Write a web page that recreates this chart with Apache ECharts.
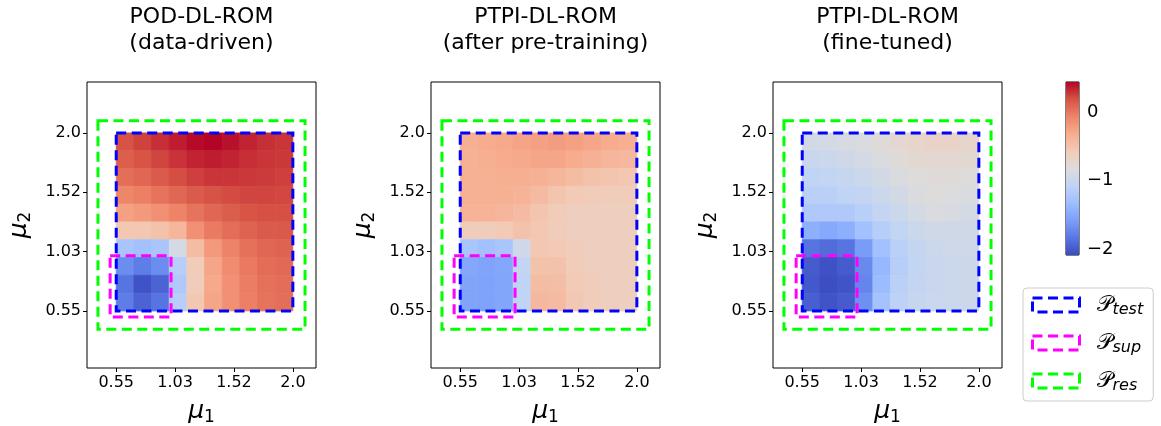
<!DOCTYPE html>
<html>
<head>
<meta charset="utf-8">
<script src="https://cdn.jsdelivr.net/npm/echarts@6/dist/echarts.min.js"></script>
<style>
  html, body { margin: 0; padding: 0; background: #fff; }
  #chart { width: 1161px; height: 426px; }
</style>
</head>
<body>
<div id="chart"></div>
<script>
// panel titles
const titles = [
    'POD-DL-ROM\n(data-driven)',
    'PTPI-DL-ROM\n(after pre-training)',
    'PTPI-DL-ROM\n(fine-tuned)'
];

// tick positions / labels on both mu axes
const tickValues = [0.55, 1.0333, 1.5167, 2.0];
const tickLabels = ['0.55', '1.03', '1.52', '2.0'];

// centres of the sampled cells in mu1 / mu2 (test region 0.55 .. 2.0)
const muCells = [0.6225, 0.7675, 0.9125, 1.0575, 1.2025, 1.3475, 1.4925, 1.6375, 1.7825, 1.9275];
const cellHalf = 0.0725;

// error fields, rows from mu2 = 2.0 (top) down to mu2 = 0.55
const podField = [
    [0.18, 0.24, 0.30, 0.36, 0.42, 0.44, 0.40, 0.34, 0.30, 0.28],
    [0.12, 0.17, 0.23, 0.29, 0.34, 0.36, 0.34, 0.30, 0.28, 0.27],
    [0.04, 0.08, 0.14, 0.20, 0.25, 0.28, 0.28, 0.27, 0.26, 0.25],
    [-0.08, -0.04, 0.02, 0.08, 0.14, 0.18, 0.21, 0.23, 0.23, 0.22],
    [-0.24, -0.20, -0.14, -0.06, 0.02, 0.08, 0.13, 0.17, 0.19, 0.19],
    [-0.55, -0.55, -0.50, -0.40, -0.14, -0.02, 0.05, 0.10, 0.14, 0.15],
    [-1.25, -1.30, -1.25, -0.90, -0.45, -0.20, -0.06, 0.03, 0.08, 0.10],
    [-1.70, -1.80, -1.70, -1.15, -0.58, -0.28, -0.12, -0.01, 0.05, 0.07],
    [-1.85, -2.05, -1.95, -1.20, -0.60, -0.30, -0.14, -0.03, 0.03, 0.05],
    [-1.80, -1.95, -1.85, -1.15, -0.55, -0.28, -0.14, -0.04, 0.02, 0.04]
];
const preField = [
    [-0.34, -0.32, -0.30, -0.27, -0.24, -0.22, -0.24, -0.28, -0.32, -0.34],
    [-0.36, -0.34, -0.32, -0.30, -0.28, -0.28, -0.32, -0.36, -0.40, -0.42],
    [-0.36, -0.35, -0.34, -0.34, -0.36, -0.40, -0.45, -0.50, -0.52, -0.54],
    [-0.36, -0.36, -0.36, -0.38, -0.44, -0.52, -0.56, -0.58, -0.60, -0.60],
    [-0.38, -0.38, -0.40, -0.44, -0.52, -0.58, -0.62, -0.62, -0.62, -0.62],
    [-0.60, -0.60, -0.56, -0.50, -0.54, -0.60, -0.62, -0.62, -0.62, -0.62],
    [-1.25, -1.30, -1.25, -0.95, -0.55, -0.56, -0.60, -0.62, -0.62, -0.62],
    [-1.52, -1.54, -1.52, -1.05, -0.50, -0.50, -0.58, -0.62, -0.62, -0.62],
    [-1.54, -1.55, -1.53, -1.08, -0.45, -0.46, -0.56, -0.60, -0.62, -0.62],
    [-1.54, -1.55, -1.53, -1.08, -0.42, -0.44, -0.55, -0.60, -0.62, -0.62]
];
const fineField = [
    [-0.92, -0.90, -0.88, -0.85, -0.80, -0.74, -0.70, -0.68, -0.68, -0.70],
    [-1.00, -0.98, -0.95, -0.90, -0.85, -0.80, -0.76, -0.74, -0.74, -0.76],
    [-1.08, -1.06, -1.02, -0.98, -0.92, -0.86, -0.82, -0.80, -0.80, -0.82],
    [-1.12, -1.12, -1.08, -1.04, -0.98, -0.92, -0.86, -0.82, -0.84, -0.86],
    [-1.20, -1.20, -1.20, -1.14, -1.05, -0.98, -0.90, -0.86, -0.88, -0.90],
    [-1.45, -1.50, -1.45, -1.30, -1.15, -1.06, -0.98, -0.94, -0.94, -0.94],
    [-1.85, -1.90, -1.85, -1.60, -1.30, -1.12, -1.04, -0.98, -0.96, -0.96],
    [-2.00, -2.06, -2.00, -1.72, -1.38, -1.15, -1.06, -1.00, -0.98, -0.97],
    [-2.02, -2.08, -2.04, -1.75, -1.35, -1.12, -1.04, -1.00, -0.98, -0.97],
    [-1.98, -2.04, -2.00, -1.68, -1.28, -1.10, -1.02, -0.99, -0.98, -0.97]
];

// parameter boxes [mu1 min, mu2 min, mu1 max, mu2 max]
const testBox = [0.55, 0.55, 2.0, 2.0];
const supBox = [0.5, 0.5, 1.0, 1.0];
const resBox = [0.4, 0.4, 2.1, 2.1];

// colour range + colorbar ticks
const cbarRange = [-2.09, 0.44];
const cbarTicks = [-2, -1, 0];
const cbarLabels = ['\u22122', '\u22121', '0'];

const coolwarm = ['#3b4cc0', '#5977e3', '#7b9ff9', '#9ebeff', '#c0d4f5', '#dddcdc',
    '#f2cbb7', '#f7ac8e', '#ee8468', '#d65244', '#b40426'];

const FONT = 'DejaVu Sans';
const panelLeft = [87, 431, 773];
const panelTop = 82, panelW = 229, panelH = 286;

function fieldData(field) {
    const out = [];
    field.forEach((row, r) => {
        row.forEach((v, c) => {
            out.push([muCells[c], muCells[muCells.length - 1 - r], v]);
        });
    });
    return out;
}

function tickLabel(v) {
    let best = 0;
    tickValues.forEach((t, i) => {
        if (Math.abs(t - v) < Math.abs(tickValues[best] - v)) best = i;
    });
    return tickLabels[best];
}

function renderCell(params, api) {
    const x = api.value(0), y = api.value(1);
    const p0 = api.coord([x - cellHalf, y + cellHalf]);
    const p1 = api.coord([x + cellHalf, y - cellHalf]);
    const color = api.visual('color');
    return {
        type: 'rect',
        shape: { x: p0[0], y: p0[1], width: p1[0] - p0[0], height: p1[1] - p0[1] },
        style: { fill: color, stroke: color, lineWidth: 0.8 }
    };
}

function boxRenderer(color) {
    return function (params, api) {
        const p0 = api.coord([api.value(0), api.value(3)]);
        const p1 = api.coord([api.value(2), api.value(1)]);
        return {
            type: 'rect',
            shape: { x: p0[0], y: p0[1], width: p1[0] - p0[0], height: p1[1] - p0[1] },
            style: { fill: null, stroke: color, lineWidth: 3, lineDash: [10, 5.5] },
            z2: 10
        };
    };
}

const fields = [podField, preField, fineField];
const grids = [], xAxes = [], yAxes = [], series = [], title = [];
const boxes = [
    { name: 'test', box: testBox, color: '#0000ff' },
    { name: 'sup', box: supBox, color: '#ff00ff' },
    { name: 'res', box: resBox, color: '#00ff00' }
];

fields.forEach((field, i) => {
    grids.push({
        left: panelLeft[i], top: panelTop, width: panelW, height: panelH,
        outerBoundsMode: 'none', containLabel: false,
        show: true, borderColor: '#000', borderWidth: 1, backgroundColor: '#fff'
    });
    title.push({
        text: titles[i],
        left: panelLeft[i] + panelW / 2,
        top: 4,
        padding: 0,
        textAlign: 'center',
        textStyle: { fontFamily: FONT, fontSize: 22, fontWeight: 'normal', color: '#000', lineHeight: 26 }
    });
    xAxes.push({
        type: 'value', gridIndex: i, min: 0.31, max: 2.19,
        axisLine: { show: false },
        splitLine: { show: false },
        axisTick: { show: true, customValues: tickValues, length: 4, lineStyle: { color: '#000' } },
        axisLabel: {
            customValues: tickValues, formatter: tickLabel, margin: 7,
            fontFamily: FONT, fontSize: 16, color: '#000'
        },
        name: '{m|\u03bc}{s|1}',
        nameLocation: 'middle',
        nameGap: 29,
        nameTextStyle: {
            rich: {
                m: { fontFamily: FONT, fontSize: 25, fontStyle: 'italic', color: '#000' },
                s: { fontFamily: FONT, fontSize: 17, color: '#000', padding: [12, 0, 0, 0] }
            }
        }
    });
    yAxes.push({
        type: 'value', gridIndex: i, min: 0.085, max: 2.415,
        axisLine: { show: false },
        splitLine: { show: false },
        axisTick: { show: true, customValues: tickValues, length: 4, lineStyle: { color: '#000' } },
        axisLabel: {
            customValues: tickValues, formatter: tickLabel, margin: 6,
            fontFamily: FONT, fontSize: 16, color: '#000'
        },
        name: '{m|\u03bc}{s|2}',
        nameLocation: 'middle',
        nameGap: 53,
        nameRotate: 90,
        nameTextStyle: {
            rich: {
                m: { fontFamily: FONT, fontSize: 25, fontStyle: 'italic', color: '#000' },
                s: { fontFamily: FONT, fontSize: 17, color: '#000', padding: [12, 0, 0, 0] }
            }
        }
    });
    series.push({
        type: 'custom',
        name: 'field' + i,
        xAxisIndex: i, yAxisIndex: i,
        renderItem: renderCell,
        encode: { x: 0, y: 1 },
        data: fieldData(field),
        silent: true
    });
});

fields.forEach((field, i) => {
    boxes.forEach(b => {
        series.push({
            type: 'custom',
            name: b.name,
            xAxisIndex: i, yAxisIndex: i,
            renderItem: boxRenderer(b.color),
            encode: { x: [0, 2], y: [1, 3] },
            data: [b.box],
            itemStyle: { color: b.color },
            z: 5,
            silent: true
        });
    });
});

// colorbar
grids.push({
    left: 1066, top: 82, width: 13, height: 173,
    outerBoundsMode: 'none', containLabel: false,
    show: true, borderColor: '#000', borderWidth: 1
});
xAxes.push({ type: 'value', gridIndex: 3, min: 0, max: 1, show: false });
yAxes.push({
    type: 'value', gridIndex: 3, position: 'right', min: cbarRange[0], max: cbarRange[1],
    axisLine: { show: false }, splitLine: { show: false },
    axisTick: { show: true, customValues: cbarTicks, length: 4, lineStyle: { color: '#000' } },
    axisLabel: {
        customValues: cbarTicks,
        formatter: v => cbarLabels[cbarTicks.indexOf(Math.round(v))],
        margin: 8, fontFamily: FONT, fontSize: 18, color: '#000'
    }
});
series.push({
    type: 'custom',
    name: 'colorbar',
    xAxisIndex: 3, yAxisIndex: 3,
    encode: { x: [0, 1], y: [2, 3] },
    data: [[0, 1, cbarRange[0], cbarRange[1]]],
    renderItem: function (params, api) {
        const p0 = api.coord([api.value(0), api.value(3)]);
        const p1 = api.coord([api.value(1), api.value(2)]);
        return {
            type: 'rect',
            shape: { x: p0[0], y: p0[1], width: p1[0] - p0[0], height: p1[1] - p0[1] },
            style: {
                fill: new echarts.graphic.LinearGradient(0, 1, 0, 0,
                    coolwarm.map((c, k) => ({ offset: k / (coolwarm.length - 1), color: c })))
            }
        };
    },
    silent: true
});

const options = {
    backgroundColor: '#fff',
    animation: false,
    title: title,
    grid: grids,
    xAxis: xAxes,
    yAxis: yAxes,
    visualMap: {
        type: 'continuous',
        show: false,
        min: cbarRange[0],
        max: cbarRange[1],
        dimension: 2,
        seriesIndex: [0, 1, 2],
        inRange: { color: coolwarm }
    },
    legend: {
        orient: 'vertical',
        left: 1023,
        top: 288,
        padding: [6, 10, 7, 8],
        itemGap: 14,
        itemWidth: 47,
        itemHeight: 14,
        icon: 'rect',
        borderColor: '#cccccc',
        borderWidth: 1,
        borderRadius: 4,
        selectedMode: false,
        data: boxes.map(b => ({
            name: b.name,
            itemStyle: { color: 'rgba(0,0,0,0)', borderColor: b.color, borderWidth: 3, borderType: [10, 5.5] }
        })),
        formatter: name => '{p|\ud835\udcab}{s|' + name + '}',
        textStyle: {
            rich: {
                p: { fontFamily: FONT, fontSize: 22, color: '#000', padding: [0, 0, 0, 12] },
                s: { fontFamily: FONT, fontSize: 16, fontStyle: 'italic', color: '#000', padding: [10, 0, 0, 0] }
            }
        }
    },
    series: series
};

const E = echarts.init(document.getElementById('chart'));
window.onresize = function () {
    E.resize();
};
E.setOption(options);
</script>
</body>
</html>
